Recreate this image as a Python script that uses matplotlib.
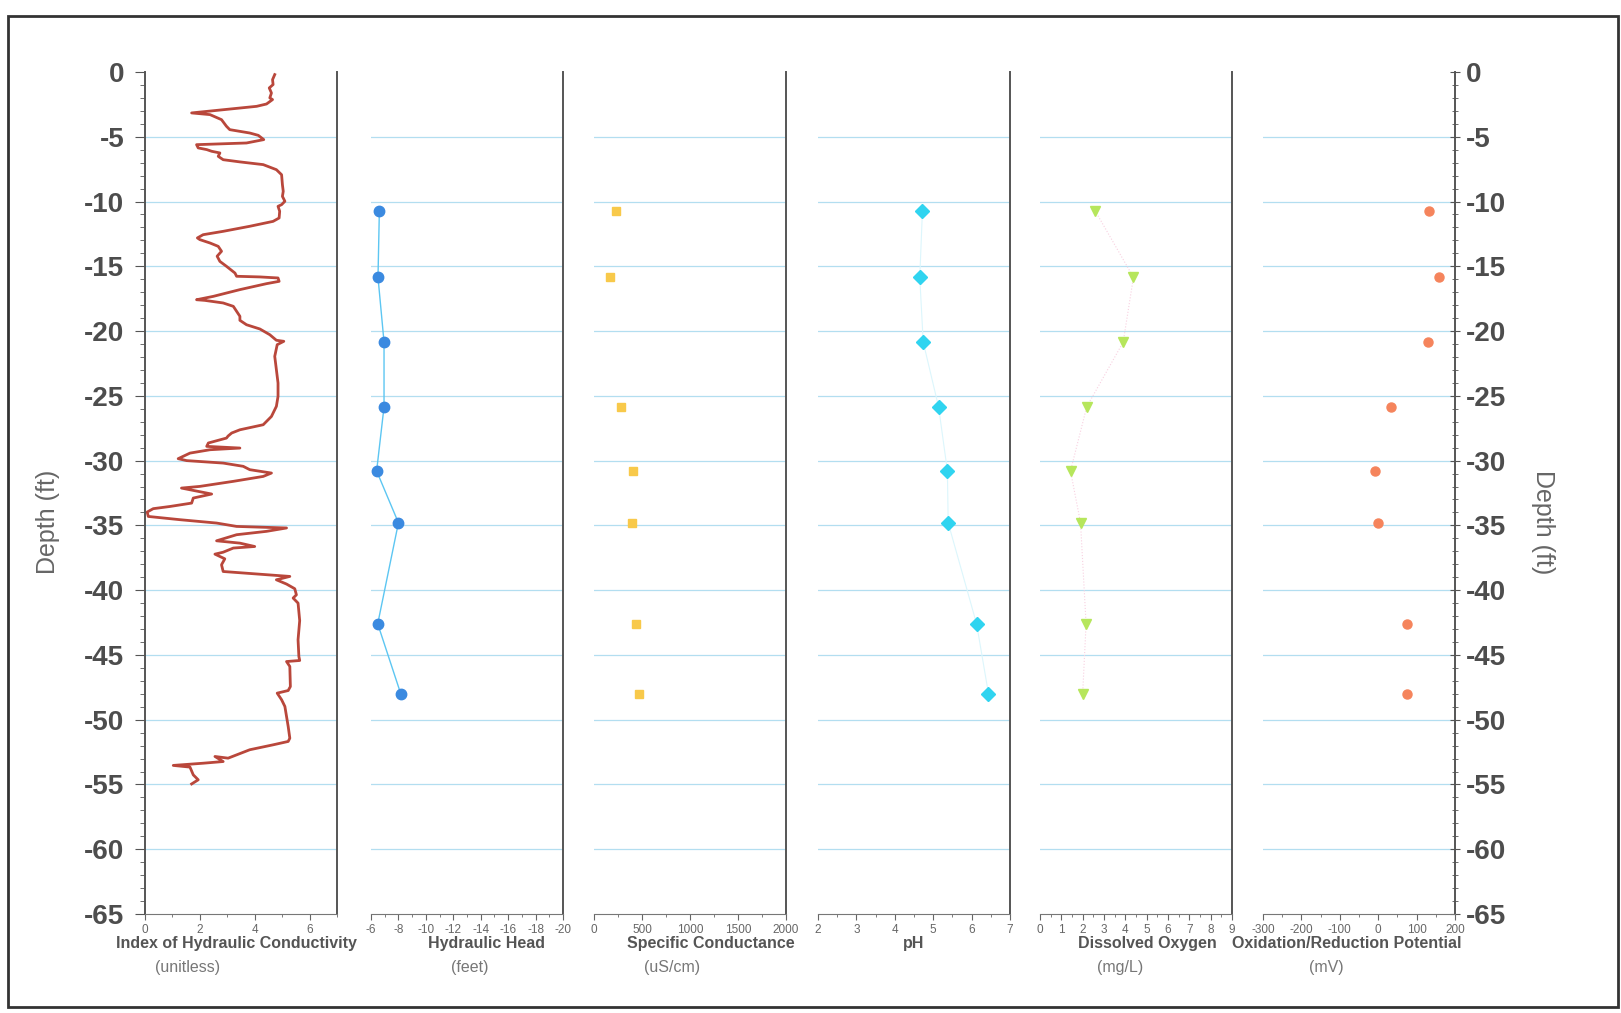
import matplotlib
matplotlib.use('Agg')
import matplotlib.pyplot as plt
from matplotlib import font_manager
from matplotlib.patches import Rectangle
from matplotlib.ticker import MultipleLocator

plt.rcParams['font.family'] = ['Liberation Sans', 'DejaVu Sans']
plt.rcParams['axes.unicode_minus'] = False

# index of hydraulic conductivity log (value, depth)
hc_value = [4.73, 4.65, 4.67, 4.53, 4.61, 4.55, 4.65, 4.43, 4.07, 3.22, 2.25, 1.70, 2.37, 2.79, 2.97,
            3.09, 3.82, 4.13, 4.33, 3.70, 2.73, 1.88, 1.94, 2.25, 2.43, 2.73, 2.67, 2.85, 3.46, 4.31,
            4.79, 4.98, 5.01, 5.04, 5.01, 5.10, 4.98, 4.85, 4.91, 4.89, 4.67, 3.82, 2.85, 2.12, 1.91,
            2.00, 2.37, 2.67, 2.79, 2.63, 2.73, 2.97, 3.28, 3.34, 4.19, 4.85, 4.89, 4.43, 3.46, 2.49,
            1.88, 2.18, 2.85, 3.22, 3.34, 3.46, 3.46, 3.70, 4.19, 4.55, 4.79, 5.06, 4.82, 4.73, 4.79,
            4.85, 4.85, 4.79, 4.61, 4.31, 3.46, 3.16, 3.03, 2.97, 2.31, 2.25, 3.46, 2.37, 1.64, 1.21,
            1.52, 2.85, 3.58, 3.82, 4.61, 4.31, 3.22, 2.00, 1.33, 2.43, 1.76, 1.70, 0.91, 0.30, 0.08,
            0.12, 1.27, 2.61, 3.34, 5.16, 4.43, 3.34, 2.61, 3.46, 4.00, 3.22, 2.85, 2.55, 2.91, 2.79,
            2.85, 4.43, 5.28, 4.79, 5.16, 5.46, 5.52, 5.40, 5.58, 5.64, 5.58, 5.61, 5.64, 5.16, 5.28,
            5.30, 5.22, 4.82, 4.98, 5.10, 5.16, 5.22, 5.28, 5.22, 4.67, 3.82, 3.03, 2.55, 2.85, 2.12,
            1.03, 1.64, 1.76, 1.94, 1.70]
hc_depth = [-0.20, -0.59, -0.97, -1.23, -1.62, -2.00, -2.13, -2.47, -2.65, -2.83, -3.03, -3.16, -3.29,
            -3.68, -4.19, -4.45, -4.71, -4.89, -5.22, -5.48, -5.55, -5.61, -5.86, -5.99, -6.12, -6.25,
            -6.51, -6.77, -6.94, -7.15, -7.54, -7.93, -8.70, -9.21, -9.60, -9.98, -10.24, -10.37,
            -10.75, -11.27, -11.53, -11.91, -12.30, -12.56, -12.81, -12.94, -13.20, -13.46, -13.84,
            -14.22, -14.62, -15.00, -15.52, -15.77, -15.82, -15.90, -16.16, -16.34, -16.80, -17.32,
            -17.58, -17.63, -17.83, -18.09, -18.48, -18.86, -19.17, -19.51, -19.84, -20.28, -20.71,
            -20.79, -21.05, -21.95, -22.98, -24.01, -25.04, -25.81, -26.59, -27.23, -27.62, -27.87,
            -28.10, -28.26, -28.64, -28.90, -29.03, -29.16, -29.42, -29.85, -30.00, -30.19, -30.44,
            -30.70, -30.96, -31.22, -31.60, -31.99, -32.12, -32.58, -32.89, -33.28, -33.54, -33.71,
            -33.97, -34.31, -34.56, -34.82, -35.08, -35.20, -35.46, -35.72, -36.19, -36.37, -36.63,
            -36.75, -37.07, -37.22, -37.58, -38.04, -38.56, -38.81, -38.94, -39.20, -39.53, -39.89,
            -40.36, -40.61, -41.00, -42.35, -43.83, -45.12, -45.43, -45.51, -45.89, -47.44, -47.75,
            -47.95, -48.46, -48.98, -49.75, -50.52, -51.43, -51.68, -51.94, -52.32, -52.97, -52.84,
            -53.23, -53.36, -53.53, -53.66, -54.26, -54.64, -54.96]

# sampling depths
sample_depth = [-10.7, -15.85, -20.85, -25.85, -30.8, -34.8, -42.6, -48.0]
head = [-6.61, -6.51, -6.95, -6.95, -6.41, -8.0, -6.49, -8.17]
cond_depth = [-10.7, -15.85, -25.85, -30.8, -34.8, -42.6, -48.0]
conductance = [226, 170, 278, 406, 396, 441, 472]
ph = [4.72, 4.65, 4.74, 5.14, 5.37, 5.39, 6.13, 6.44]
do = [2.58, 4.38, 3.90, 2.19, 1.43, 1.90, 2.16, 2.00]
orp = [131, 158, 129, 34, -9, -1, 76, 76]
grid_depths = range(-5, -61, -5)

titles = ['Index of Hydraulic Conductivity', 'Hydraulic Head', 'Specific Conductance', 'pH',
          'Dissolved Oxygen', 'Oxidation/Reduction Potential']
units = ['(unitless)', '(feet)', '(uS/cm)', '', '(mg/L)', '(mV)']

# condensed face for the labels under the panels, if there is one
names = {f.name for f in font_manager.fontManager.ttflist}
if 'Liberation Sans Narrow' in names:
    label_family, title_size, unit_size, xtick_size = 'Liberation Sans Narrow', 14, 13, 9.5
else:
    label_family, title_size, unit_size, xtick_size = 'Liberation Sans', 11.5, 11.5, 8.5

W, H = 1621, 1013
fig = plt.figure(figsize=(W / 100, H / 100), dpi=100)

lefts = [145, 371, 594, 818, 1040, 1263]
pw = 192
top, bot = 72, 914
axes = []
for l in lefts:
    ax = fig.add_axes([l / W, 1 - bot / H, pw / W, (bot - top) / H])
    ax.set_ylim(-65, 0)
    ax.yaxis.set_major_locator(MultipleLocator(5))
    ax.yaxis.set_minor_locator(MultipleLocator(1))
    for g in grid_depths:
        ax.axhline(g, color='#b3def0', lw=0.9, zorder=0)
    for s in ['top', 'left']:
        ax.spines[s].set_visible(False)
    ax.spines['right'].set_color('#555555')
    ax.spines['right'].set_linewidth(1.4)
    ax.spines['bottom'].set_color('#777777')
    ax.tick_params(axis='y', left=False, labelleft=False, which='both')
    ax.tick_params(axis='x', which='major', length=4, color='#666666', labelsize=xtick_size,
                   labelcolor='#666666', pad=3)
    ax.tick_params(axis='x', which='minor', length=2.5, color='#666666')
    axes.append(ax)

tick_font = dict(family=['Liberation Sans', 'DejaVu Sans'], weight='bold', size=20)

# panel 1: hydraulic conductivity
ax = axes[0]
ax.plot(hc_value, hc_depth, color='#b9473b', lw=2.0, solid_joinstyle='round')
ax.set_xlim(0, 7)
ax.set_xticks([0, 2, 4, 6])
ax.xaxis.set_minor_locator(MultipleLocator(1))
ax.spines['left'].set_visible(True)
ax.spines['left'].set_color('#555555')
ax.spines['left'].set_linewidth(1.4)
ax.tick_params(axis='y', left=True, labelleft=True, which='major', length=7, color='#555555',
               pad=8)
ax.tick_params(axis='y', left=True, which='minor', length=3.5, color='#555555')
for t in ax.get_yticklabels():
    t.set_fontproperties(tick_font)
    t.set_color('#4d4d4d')

# panel 2: hydraulic head
ax = axes[1]
ax.plot(head, sample_depth, color='#5cc6f2', lw=1, marker='o', ms=7.5,
        mfc='#3b8ae0', mec='#3b8ae0')
ax.set_xlim(-6, -20)
ax.set_xticks(range(-6, -21, -2))
ax.xaxis.set_minor_locator(MultipleLocator(1))

# panel 3: specific conductance
ax = axes[2]
ax.plot(conductance, cond_depth, ls='none', marker='s', ms=6, mfc='#f8c94a', mec='#f8c94a')
ax.set_xlim(0, 2000)
ax.set_xticks(range(0, 2001, 500))
ax.xaxis.set_minor_locator(MultipleLocator(250))

# panel 4: pH
ax = axes[3]
ax.plot(ph, sample_depth, color='#dcf6fc', lw=0.8, marker='D', ms=7,
        mfc='#30d4f0', mec='#30d4f0')
ax.set_xlim(2, 7)
ax.set_xticks(range(2, 8))
ax.xaxis.set_minor_locator(MultipleLocator(0.5))

# panel 5: dissolved oxygen
ax = axes[4]
ax.plot(do, sample_depth, color='#f8d0e0', lw=0.8, ls=':')
ax.plot(do, sample_depth, ls='none', marker='v', ms=7, mfc='#b6e65c', mec='#b6e65c')
ax.set_xlim(0, 9)
ax.set_xticks(range(0, 10))
ax.xaxis.set_minor_locator(MultipleLocator(0.5))

# panel 6: ORP + right depth axis
ax = axes[5]
ax.plot(orp, sample_depth, ls='none', marker='o', ms=6.5, mfc='#f5845c', mec='#f5845c')
ax.set_xlim(-300, 200)
ax.set_xticks(range(-300, 201, 100))
ax.xaxis.set_minor_locator(MultipleLocator(50))
ax.tick_params(axis='y', right=True, labelright=True, which='major', length=7,
               direction='inout', color='#555555', pad=4)
ax.tick_params(axis='y', right=True, which='minor', length=4, direction='inout',
               color='#555555')
for t in ax.get_yticklabels():
    t.set_fontproperties(tick_font)
    t.set_color('#4d4d4d')

for ax in axes:
    for t in ax.get_xticklabels():
        t.set_family(label_family)

# bottom titles
title_x = [236, 486, 711, 914, 1147, 1347]
unit_x = [188, 470, 672, 914, 1120, 1326]
for tt, ux, tx, un in zip(titles, unit_x, title_x, units):
    fig.text(tx / W, 1 - 943 / H, tt, ha='center', va='center', fontsize=title_size,
             weight='bold', color='#555555', family=label_family)
    if un:
        fig.text(ux / W, 1 - 967 / H, un, ha='center', va='center', fontsize=unit_size,
                 color='#777777', family=label_family)

fig.text(48 / W, 1 - 522 / H, 'Depth (ft)', rotation=90, ha='center', va='center',
         fontsize=18, color='#666666')
fig.text(1543 / W, 1 - 522 / H, 'Depth (ft)', rotation=270, ha='center', va='center',
         fontsize=18, color='#666666')

# scanned page frame
fig.patches.append(Rectangle((8 / W, 6 / H), 1610 / W, 991 / H, transform=fig.transFigure,
                             fill=False, ec='#333333', lw=2))

fig.savefig('out.png', dpi=100, facecolor='white')
